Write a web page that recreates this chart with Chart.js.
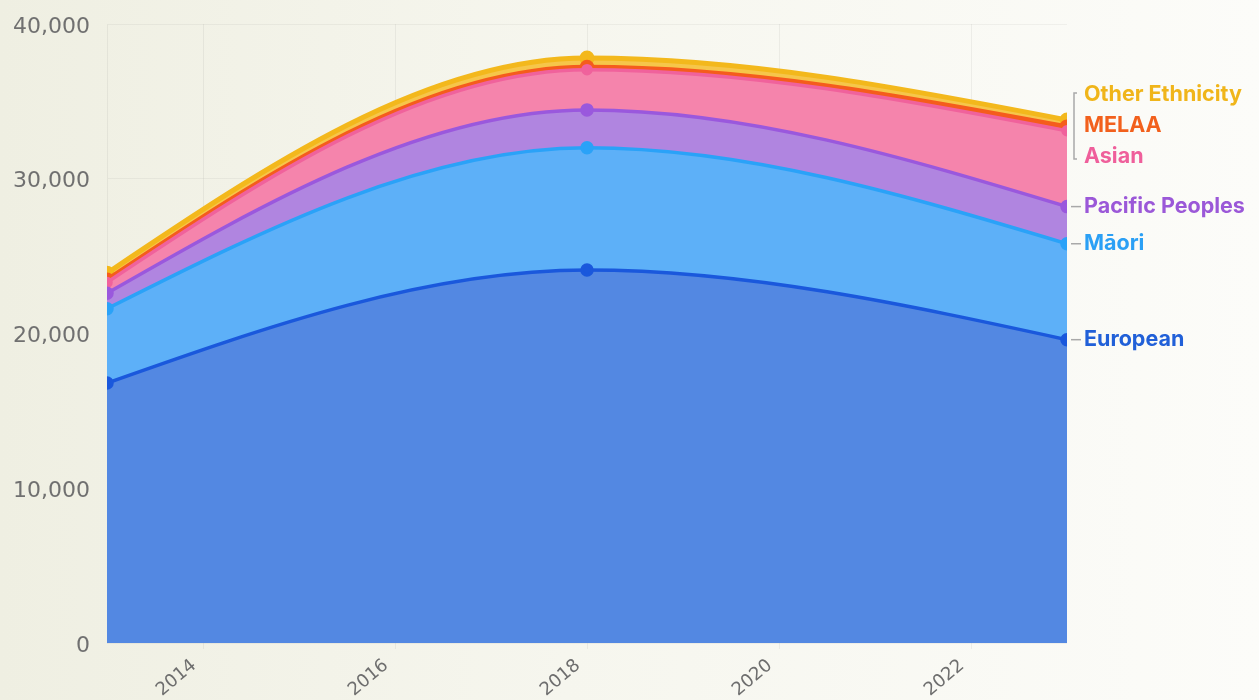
<!DOCTYPE html>
<html>
<head>
<meta charset="utf-8">
<script src="https://cdn.jsdelivr.net/npm/chart.js@4.4.1/dist/chart.umd.min.js"></script>
<style>
  html, body { margin: 0; padding: 0; }
  body {
    width: 1259px; height: 700px; overflow: hidden;
    background: linear-gradient(to right, #efefe2 0%, #f6f6ee 45%, #fcfcf9 100%);
  }
  #wrap { position: relative; width: 1259px; height: 700px; }
</style>
</head>
<body>
<div id="wrap"><canvas id="ethChart"></canvas></div>
<script>
// Stacked ethnicity counts by census year

var years = [2013, 2018, 2023];
var xTicks = [2014, 2016, 2018, 2020, 2022];
var yTicks = [0, 10000, 20000, 30000, 40000];

var seriesNames = ['European', 'Māori', 'Pacific Peoples', 'Asian', 'MELAA', 'Other Ethnicity'];
var european = [16800, 24100, 19600];
var maori    = [4800, 7900, 6200];
var pacific  = [1000, 2450, 2400];
var asian    = [700, 2600, 4900];
var melaa    = [150, 150, 250];
var other    = [450, 600, 450];

var lineColors = ['#1a58dc', '#2aa2f8', '#9a58dd', '#f0629c', '#f55c1c', '#f3b81c'];
var fillColors = ['#5388e2', '#5db0f8', '#b085e0', '#f584ac', '#f87b48', '#f6c64a'];
var textColors = ['#2160d8', '#2ba0f5', '#9b58d8', '#ef5f9b', '#f2601c', '#f0b51a'];

function pts(arr) {
    return arr.map(function (v, i) { return { x: years[i], y: v }; });
}

var allSeries = [european, maori, pacific, asian, melaa, other];
var datasets = allSeries.map(function (s, i) {
    return {
        label: seriesNames[i],
        data: pts(s),
        borderColor: lineColors[i],
        backgroundColor: fillColors[i],
        pointBackgroundColor: lineColors[i],
        pointBorderColor: lineColors[i],
        pointRadius: i === 3 ? 4 : 5,
        pointHoverRadius: 5,
        borderWidth: i >= 4 ? 5 : 3.5,
        fill: i === 0 ? 'origin' : '-1',
        cubicInterpolationMode: 'monotone'
    };
});

// monotone-x tangents with one-sided end slopes (steeper ends than chart.js default)
var monoX = {
    id: 'monoX',
    beforeDraw: function (chart) {
        chart.getSortedVisibleDatasetMetas().forEach(function (meta) {
            var line = meta.dataset;
            line.updateControlPoints(chart.chartArea, 'x');
            var p = meta.data;
            var n = p.length;
            if (n < 3) return;
            var m = [];
            for (var i = 1; i < n - 1; i++) {
                var h0 = p[i].x - p[i - 1].x, h1 = p[i + 1].x - p[i].x;
                var s0 = (p[i].y - p[i - 1].y) / h0, s1 = (p[i + 1].y - p[i].y) / h1;
                var q = (s0 * h1 + s1 * h0) / (h0 + h1);
                m[i] = (Math.sign(s0) + Math.sign(s1)) * Math.min(Math.abs(s0), Math.abs(s1), 0.5 * Math.abs(q)) || 0;
            }
            var hA = p[1].x - p[0].x;
            m[0] = (3 * (p[1].y - p[0].y) / hA - m[1]) / 2;
            var hB = p[n - 1].x - p[n - 2].x;
            m[n - 1] = (3 * (p[n - 1].y - p[n - 2].y) / hB - m[n - 2]) / 2;
            for (var k = 0; k < n; k++) {
                if (k > 0) {
                    var dp = (p[k].x - p[k - 1].x) / 3;
                    p[k].cp1x = p[k].x - dp;
                    p[k].cp1y = p[k].y - dp * m[k];
                }
                if (k < n - 1) {
                    var dn = (p[k + 1].x - p[k].x) / 3;
                    p[k].cp2x = p[k].x + dn;
                    p[k].cp2y = p[k].y + dn * m[k];
                }
            }
            delete line._path;
        });
    }
};

// right side labels with leader lines, spread apart if they collide
var endLabels = {
    id: 'endLabels',
    afterDatasetsDraw: function (chart) {
        var ctx = chart.ctx;
        var area = chart.chartArea;
        var items = [];
        chart.data.datasets.forEach(function (ds, i) {
            var meta = chart.getDatasetMeta(i);
            var p = meta.data[meta.data.length - 1];
            items.push({ i: i, y: p.y, ly: p.y });
        });
        items.sort(function (a, b) { return a.y - b.y; });

        var gap = 31;
        var groups = [];
        items.forEach(function (it) {
            var g = groups[groups.length - 1];
            if (g && it.y - g.items[g.items.length - 1].y < gap) g.items.push(it);
            else groups.push({ items: [it] });
        });
        groups.forEach(function (g) {
            var n = g.items.length;
            var mean = g.items.reduce(function (s, it) { return s + it.y; }, 0) / n;
            g.items.forEach(function (it, k) { it.ly = mean + (k - (n - 1) / 2) * gap; });
        });

        ctx.save();
        ctx.strokeStyle = '#a9a9a9';
        ctx.lineWidth = 1.5;
        groups.forEach(function (g) {
            var x0 = area.right + 4;
            if (g.items.length > 1) {
                var top = g.items[0].ly - 2;
                var bot = g.items[g.items.length - 1].ly + 2;
                ctx.beginPath();
                ctx.moveTo(x0 + 6, top); ctx.lineTo(x0 + 3, top);
                ctx.lineTo(x0 + 3, bot); ctx.lineTo(x0 + 6, bot);
                ctx.stroke();
            } else {
                ctx.beginPath();
                ctx.moveTo(x0, g.items[0].ly); ctx.lineTo(x0 + 10, g.items[0].ly);
                ctx.stroke();
            }
        });
        ctx.font = 'bold 21.5px Inter, "Noto Sans", sans-serif';
        ctx.textAlign = 'left';
        ctx.textBaseline = 'middle';
        items.forEach(function (it) {
            ctx.fillStyle = textColors[it.i];
            ctx.fillText(seriesNames[it.i], area.right + 17, it.ly);
        });
        ctx.restore();
    }
};

Chart.defaults.font.family = '"DejaVu Sans", sans-serif';
Chart.defaults.color = '#707070';

var ctx = document.getElementById('ethChart').getContext('2d');
var ethChart = new Chart(ctx, {
    type: 'line',
    data: { datasets: datasets },
    options: {
        responsive: true,
        maintainAspectRatio: false,
        animation: false,
        layout: { padding: { top: 24, right: 192, left: 0, bottom: 0 } },
        plugins: {
            legend: { display: false },
            tooltip: { enabled: false }
        },
        scales: {
            x: {
                type: 'linear',
                min: 2013,
                max: 2023,
                afterBuildTicks: function (axis) {
                    axis.ticks = xTicks.map(function (v) { return { value: v }; });
                },
                afterFit: function (axis) { axis.height = 57; },
                grid: { color: 'rgba(0,0,0,0.05)', drawOnChartArea: true, tickLength: 6 },
                border: { display: false },
                ticks: {
                    font: { size: 18 },
                    color: '#6e6e6e',
                    minRotation: 40,
                    maxRotation: 40,
                    padding: 6,
                    labelOffset: -9,
                    callback: function (v) { return String(v); }
                }
            },
            y: {
                stacked: true,
                min: 0,
                max: 40000,
                afterBuildTicks: function (axis) {
                    axis.ticks = yTicks.map(function (v) { return { value: v }; });
                },
                afterFit: function (axis) { axis.width = 107; },
                grid: { color: 'rgba(0,0,0,0.045)', drawTicks: false },
                border: { color: 'rgba(0,0,0,0.05)' },
                ticks: {
                    font: { size: 22, lineHeight: 0.6 },
                    color: '#707070',
                    padding: 17,
                    labelOffset: 3,
                    callback: function (v) { return v.toLocaleString('en-US'); }
                }
            }
        }
    },
    plugins: [monoX, endLabels]
});
</script>
</body>
</html>
